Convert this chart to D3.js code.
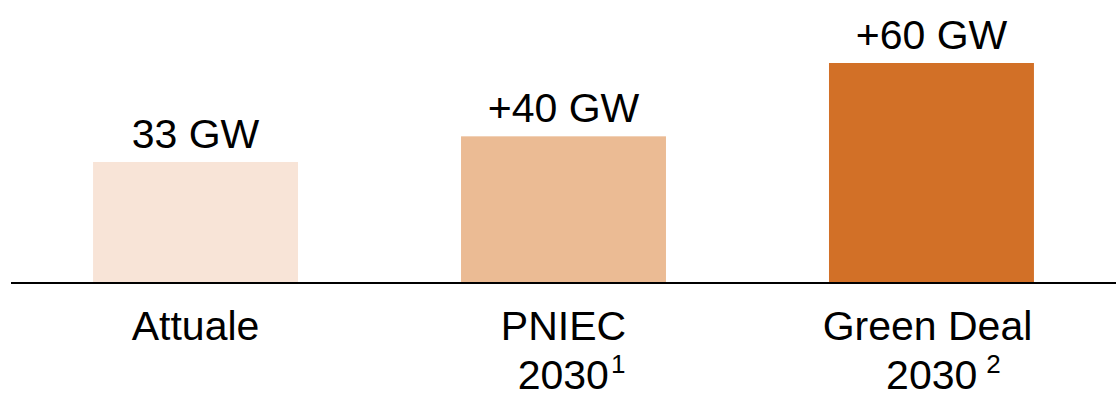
<!DOCTYPE html>
<html>
<head>
<meta charset="utf-8">
<script src="https://cdn.jsdelivr.net/npm/d3@7"></script>
<style>
  html, body { margin: 0; padding: 0; background: #fff; }
  svg { display: block; font-family: "Liberation Sans", Arial, sans-serif; }
</style>
</head>
<body>
<svg id="chart" width="1117" height="398"></svg>
<script>
// Capacity scenarios (GW)
const categories = ["Attuale", "PNIEC 2030", "Green Deal 2030"];
const values = [33, 40, 60];
const valueLabels = ["33 GW", "+40 GW", "+60 GW"];
const labelLine1 = ["Attuale", "PNIEC", "Green Deal"];
const labelLine2 = ["", "2030", "2030"];
const footnotes = ["", "1", "2"];
const colors = ["#F8E4D7", "#EBBB94", "#D27027"];

const svg = d3.select("#chart");
const baseY = 283;
const fontSize = 41;

const x = d3.scaleBand()
  .domain(categories)
  .range([11, 1116])
  .paddingInner(0.443)
  .paddingOuter(0.223);

const y = d3.scaleLinear()
  .domain([0, 60])
  .range([baseY, 63]);

// Bars
svg.selectAll("rect.bar")
  .data(categories)
  .join("rect")
  .attr("class", "bar")
  .attr("x", d => x(d))
  .attr("width", x.bandwidth())
  .attr("y", (d, i) => y(values[i]))
  .attr("height", (d, i) => baseY - y(values[i]))
  .attr("fill", (d, i) => colors[i]);

// Value labels above bars
svg.selectAll("text.value")
  .data(categories)
  .join("text")
  .attr("class", "value")
  .attr("x", d => x(d) + x.bandwidth() / 2)
  .attr("y", (d, i) => y(values[i]) - 14)
  .attr("text-anchor", "middle")
  .attr("font-size", fontSize)
  .attr("fill", "#000")
  .text((d, i) => valueLabels[i]);

// Baseline
const axis = d3.axisBottom(x).tickSize(0).tickFormat("");
svg.append("g")
  .attr("transform", `translate(0,${baseY})`)
  .call(axis)
  .call(g => g.select(".domain").attr("d", "M11,0H1116").attr("stroke", "#000").attr("stroke-width", 2));

// Category labels
const lab = svg.selectAll("g.cat")
  .data(categories)
  .join("g")
  .attr("class", "cat")
  .attr("transform", d => `translate(${x(d) + x.bandwidth() / 2},0)`);

lab.append("text")
  .attr("y", 340)
  .attr("text-anchor", "middle")
  .attr("font-size", fontSize)
  .attr("dx", (d, i) => i === 2 ? -4 : 0)
  .text((d, i) => labelLine1[i]);

const l2 = lab.filter((d, i) => labelLine2[i] !== "")
  .append("text")
  .attr("y", 389)
  .attr("text-anchor", "middle")
  .attr("font-size", fontSize)
  .attr("dx", (d, i) => i === 0 ? 8 : 12);

l2.append("tspan").text(d => labelLine2[categories.indexOf(d)]);
l2.append("tspan")
  .attr("font-size", 26)
  .attr("dx", (d) => categories.indexOf(d) === 2 ? 9 : 2)
  .attr("dy", -16)
  .text(d => footnotes[categories.indexOf(d)]);
</script>
</body>
</html>
